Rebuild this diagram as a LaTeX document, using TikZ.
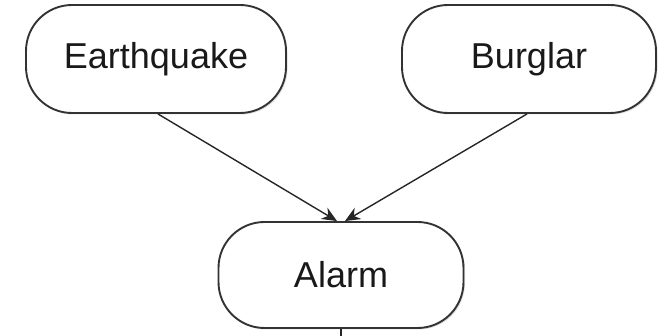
\documentclass[tikz,border=0pt]{standalone}
\usepackage{fontspec}
\setmainfont{Liberation Sans}
\usepackage{tikz}
\usepackage{xcolor}
\usetikzlibrary{arrows.meta,shadows}
\definecolor{boxline}{HTML}{333333}
\tikzset{
    event-box/.style = {draw=boxline, fill=white, line width=1.9pt, rectangle, rounded corners=46pt, minimum height=108pt, text=black!90, font=\fontsize{36}{40}\selectfont, drop shadow={opacity=0.25, shadow xshift=1.5pt, shadow yshift=-1.5pt}},
    cause-arrow/.style = {draw=black!85, line width=1.4pt, -{Stealth[length=15pt,width=13pt]}},
}

\begin{document}
\begin{tikzpicture}[x=1pt, y=1pt]
\useasboundingbox (0,0) rectangle (659,-336);
\node [event-box, minimum width=260pt] (earthquake) at (156,-59) {Earthquake};
\node [event-box, minimum width=254pt] (burglar) at (529,-59) {Burglar};
\node [event-box, minimum width=245pt, minimum height=106pt] (alarm) at (341,-275) {Alarm};
\coordinate (below) at (341,-345);
\draw [cause-arrow] ([xshift=2pt]earthquake.south) -- ([xshift=-4pt]alarm.north);
\draw [cause-arrow] ([xshift=-2pt]burglar.south) -- ([xshift=4pt]alarm.north);
\draw [draw=black!85, line width=1.4pt] (alarm.south) -- (below);
\end{tikzpicture}
\end{document}
